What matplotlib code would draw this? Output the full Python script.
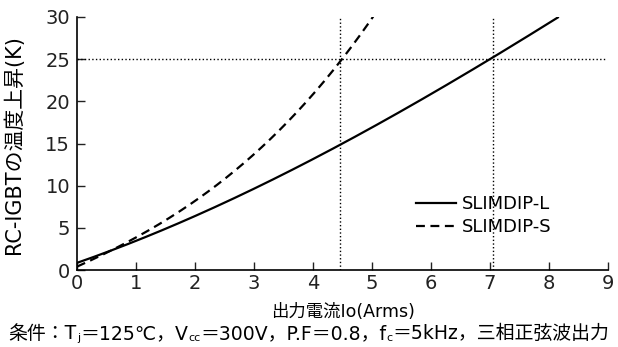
import matplotlib
matplotlib.use("Agg")
import matplotlib.pyplot as plt
import numpy as np

plt.rcParams["font.family"] = ["DejaVu Sans", "Noto Sans CJK JP"]

# data
io_l = [0, 1, 2, 3, 4, 5, 6, 7, 8, 8.15]
temp_l = [0.8, 3.6, 6.3, 9.6, 13.1, 17.0, 21.0, 24.8, 29.3, 30.0]
io_s = [0, 1, 2, 3, 4, 4.45, 5.02]
temp_s = [0.5, 3.5, 8.6, 13.7, 20.4, 25.0, 30.0]
ref_x = [4.45, 7.05]
ref_y = 25
x_ticks = list(range(0, 10))
y_ticks = list(range(0, 31, 5))
# caption pieces: (text, subscript?)
caption = [("条件：T", False), ("j", True), ("＝125℃，V", False), ("cc", True),
           ("＝300V，P.F＝0.8，f", False), ("c", True), ("＝5kHz，三相正弦波出力", False)]


def smooth(x, y):
    xs = np.linspace(x[0], x[-1], 200)
    c = np.polyfit(x, y, 3)
    return xs, np.polyval(c, xs)


fig = plt.figure(figsize=(6.18, 3.47), dpi=100, facecolor="white")
ax = fig.add_axes([77 / 618, 1 - 270 / 347, (608 - 77) / 618, (270 - 17) / 347])

xs, ys = smooth(io_l, temp_l)
ax.plot(xs, ys, "-", color="black", linewidth=1.6, label="SLIMDIP-L")
xs, ys = smooth(io_s, temp_s)
ax.plot(xs, ys, "--", color="black", linewidth=1.6, dashes=(4, 2.5), label="SLIMDIP-S")

for xv in ref_x:
    ax.plot([xv, xv], [0, 30], ":", color="black", linewidth=1)
ax.plot([0, 8.95], [ref_y, ref_y], ":", color="black", linewidth=1)

ax.set_xlim(0, 9)
ax.set_ylim(0, 30)
ax.set_xticks(x_ticks)
ax.set_yticks(y_ticks)
ax.tick_params(direction="in", length=6, width=1, labelsize=14, colors="#222222")
ax.tick_params(axis="x", pad=3)
ax.tick_params(axis="y", pad=5)
for s in ["top", "right"]:
    ax.spines[s].set_visible(False)
for s in ["left", "bottom"]:
    ax.spines[s].set_linewidth(1.2)

ax.set_ylabel("RC-IGBTの温度上昇(K)", fontsize=15)
ax.yaxis.set_label_coords(-0.12, 0.494)
ax.yaxis.label.set_va("center")
ax.set_xlabel("出力電流Io(Arms)", fontsize=12.5)
ax.xaxis.set_label_coords(0.5, -0.166)
ax.xaxis.label.set_va("center")

ax.legend(loc="center left", bbox_to_anchor=(0.625, 0.215), frameon=False, fontsize=13,
          handlelength=2.2, handletextpad=0.35, labelspacing=0.25, borderaxespad=0)

# caption with subscripts, laid out piece by piece
renderer = fig.canvas.get_renderer()
W, H = fig.bbox.width, fig.bbox.height
texts = []
x = 0
for txt, sub in caption:
    t = fig.text(x / W, 0, txt, fontsize=8 if sub else 13.6, ha="left", va="baseline")
    w = t.get_window_extent(renderer).width
    texts.append((t, sub, x))
    x += w
x0 = (W - x) / 2
base = H - 339
for t, sub, xi in texts:
    t.set_position(((x0 + xi) / W, (base - (2 if sub else 0)) / H))

fig.savefig("out.png", dpi=100, facecolor="white")
